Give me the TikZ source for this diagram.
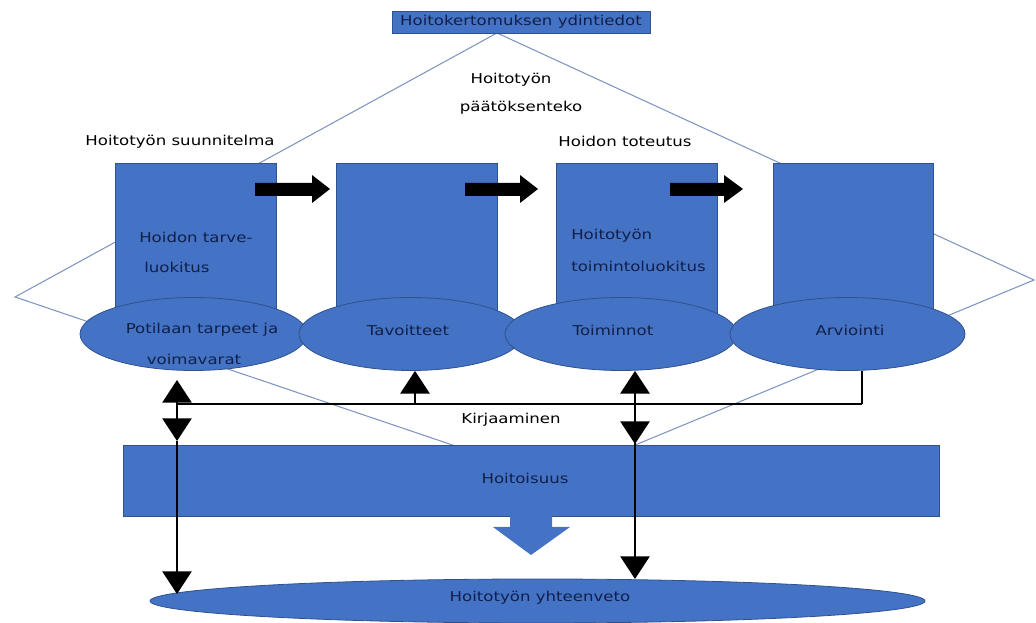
\documentclass[tikz,border=0pt]{standalone}
\usepackage{fontspec}
\setmainfont[FakeStretch=1.22]{DejaVu Sans}
\usetikzlibrary{arrows.meta,shapes.geometric}
\definecolor{boxblue}{HTML}{4472C4}
\definecolor{boxedge}{HTML}{2F528F}
\definecolor{navytext}{HTML}{10204A}
\definecolor{diam}{HTML}{8095C0}
\begin{document}
\begin{tikzpicture}[x=0.75pt,y=-0.75pt,
  lbl/.style={font=\fontsize{10.2}{12}\selectfont, inner sep=0pt, text=black},
  inl/.style={lbl, text=navytext},
  bluebox/.style={draw=boxedge, fill=boxblue, line width=0.6pt, rectangle, inner sep=0pt},
  blueell/.style={draw=boxedge, fill=boxblue, line width=0.6pt, ellipse, inner sep=0pt},
  conn/.style={draw=black, line width=1.1pt},
  tip/.style={-{Triangle[width=22pt,length=17pt]}},
  diamline/.style={draw=diam, line width=0.8pt},
  blockarrow/.style={fill=black}]
\useasboundingbox (0,0) rectangle (1036,623);

% large diamond outline
\coordinate (dL) at (15,297);
\coordinate (dT) at (497,33);
\coordinate (dR) at (1034,280);
\coordinate (dB) at (553,479);
\draw[diamline] (dL) -- (dT) -- (dR) -- (dB) -- cycle;

% top box
\node[bluebox, minimum width=258*0.75pt, minimum height=22*0.75pt, font=\fontsize{10.2}{12}\selectfont, text=navytext] (top) at (521,22) {Hoitokertomuksen ydintiedot};

% four rectangles
\node[bluebox, minimum width=161*0.75pt, minimum height=157*0.75pt] (r1) at (195.5,241.5) {};
\node[bluebox, minimum width=161*0.75pt, minimum height=157*0.75pt] (r2) at (416.5,241.5) {};
\node[bluebox, minimum width=161*0.75pt, minimum height=157*0.75pt] (r3) at (636.5,241.5) {};
\node[bluebox, minimum width=160*0.75pt, minimum height=157*0.75pt] (r4) at (853,241.5) {};

% black block arrows
\fill[blockarrow] (255,183) -- (312,183) -- (312,175) -- (330,189) -- (312,203) -- (312,196) -- (255,196) -- cycle;
\fill[blockarrow] (465,183) -- (520,183) -- (520,175) -- (538,189) -- (520,203) -- (520,196) -- (465,196) -- cycle;
\fill[blockarrow] (670,183) -- (724,183) -- (724,175) -- (743,189) -- (724,203) -- (724,196) -- (670,196) -- cycle;

% four ellipses
\node[blueell, minimum width=227*0.75pt, minimum height=73*0.75pt] (e1) at (193.5,334) {};
\node[blueell, minimum width=224*0.75pt, minimum height=73*0.75pt] (e2) at (411,334) {};
\node[blueell, minimum width=232*0.75pt, minimum height=73*0.75pt] (e3) at (621,334) {};
\node[blueell, minimum width=235*0.75pt, minimum height=73*0.75pt] (e4) at (847.5,334) {};

% Hoitoisuus bar and bottom ellipse
\node[bluebox, minimum width=816*0.75pt, minimum height=71*0.75pt] (hoit) at (531,480.5) {};
\fill[boxblue] (510,515) -- (552,515) -- (552,527) -- (570,527) -- (531,555) -- (493,527) -- (510,527) -- cycle;
\node[blueell, minimum width=775*0.75pt, minimum height=44*0.75pt] (yht) at (537.5,601) {};

% labels
\node[lbl] (tSuun) at (180,142) {Hoitotyön suunnitelma};
\node[lbl] (tPaat1) at (511,80) {Hoitotyön};
\node[lbl] (tPaat2) at (521,108) {päätöksenteko};
\node[lbl] (tTot) at (625,141) {Hoidon toteutus};
\node[inl, anchor=west] (tTarve1) at (139,237) {Hoidon tarve-};
\node[inl, anchor=west] (tTarve2) at (144,267) {luokitus};
\node[inl, anchor=west] (tToim1) at (571,236) {Hoitotyön};
\node[inl, anchor=west] (tToim2) at (571,266) {toimintoluokitus};
\node[inl] (tPot1) at (202,330) {Potilaan tarpeet ja};
\node[inl] (tPot2) at (194,359) {voimavarat};
\node[inl] (tTav) at (408,330) {Tavoitteet};
\node[inl] (tToi) at (613,330) {Toiminnot};
\node[inl] (tArv) at (850,330) {Arviointi};
\node[lbl] (tKirj) at (511,420) {Kirjaaminen};
\node[inl] (tHoit) at (525,478) {Hoitoisuus};
\node[inl] (tYht) at (540,598) {Hoitotyön yhteenveto};

% connectors
\coordinate (kL) at (177,404);
\coordinate (kR) at (862,404);
\coordinate (kT) at (415,404);
\coordinate (xR) at (635,404);
\coordinate (L1) at (177,380);
\coordinate (L2) at (177,441);
\coordinate (L3) at (177,594);
\coordinate (R2) at (635,444);
\coordinate (R3) at (635,579);
\draw[conn] (kL) -- (kR);
\draw[conn] (e4.south -| kR) -- (kR);
\draw[conn, tip] (kT) -- (kT |- e2.south);
\draw[conn, tip] (kL) -- (L1);
\draw[conn, tip] (kL) -- (L2);
\draw[conn, tip] (L2) -- (L3);
\draw[conn, tip] (R2) -- (e3.south -| xR);
\draw[conn, tip] (xR) -- (R2);
\draw[conn, tip] (R2) -- (R3);
\end{tikzpicture}
\end{document}
